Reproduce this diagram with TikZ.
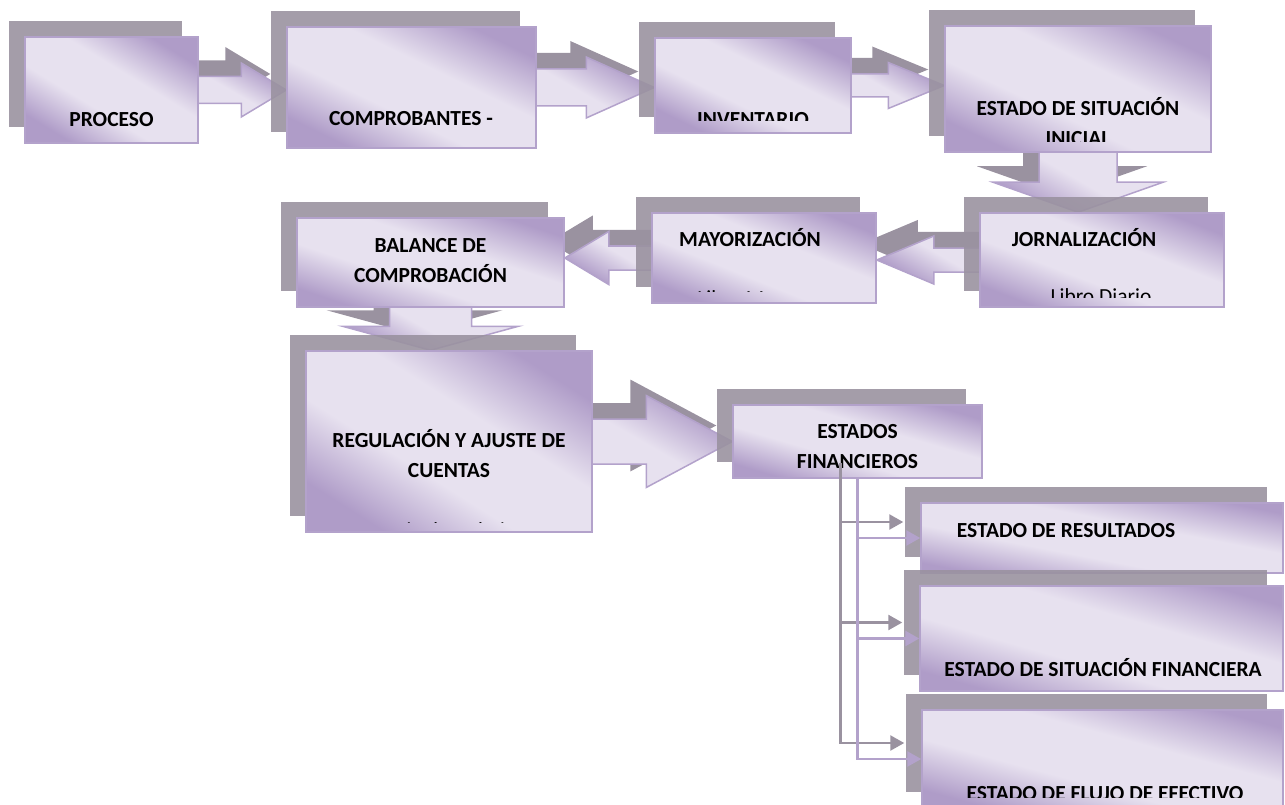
\documentclass[tikz,border=0pt]{standalone}
\usepackage{fontspec}
\setmainfont{Carlito}
\usetikzlibrary{calc,shadows,backgrounds,arrows.meta}

\definecolor{lila}{HTML}{E7E1EF}
\definecolor{lilaosc}{HTML}{AF9CC8}
\definecolor{borde}{HTML}{B3A2CB}
\definecolor{sombra}{HTML}{9A92A0}

\pgfdeclareverticalshading{lilashade}{100bp}{color(0bp)=(lilaosc); color(25bp)=(lilaosc);
  color(41bp)=(lila); color(58bp)=(lila); color(75bp)=(lilaosc); color(100bp)=(lilaosc)}

% flecha de bloque: origen, punta, medio cuerpo, media punta, largo punta
\newcommand{\flecha}[5]{%
  \coordinate (fA) at (#1);
  \coordinate (fB) at (#2);
  \coordinate (fH) at ($(fB)!#5!(fA)$);
  \path[flechabloque] ($(fA)!#3!90:(fB)$) -- ($(fH)!#3!90:(fB)$) -- ($(fH)!#4!90:(fB)$)
    -- (fB) -- ($(fH)!#4!-90:(fB)$) -- ($(fH)!#3!-90:(fB)$) -- ($(fA)!#3!-90:(fB)$) -- cycle;
}

\begin{document}
\begin{tikzpicture}[
    x=1pt, y=-1pt,
    caja/.style={draw=borde, line width=1.5pt, shade, shading=lilashade, shading angle=-25, inner sep=0pt,
        general shadow={fill=sombra, opacity=.9, shadow xshift=-16pt, shadow yshift=16pt}},
    flechabloque/.style={draw=borde, line width=1.5pt, shade, shading=lilashade, shading angle=-30,
        general shadow={fill=sombra, shadow xshift=-16pt, shadow yshift=16pt}},
    texto/.style={font=\bfseries\fontsize{21.5}{30}\selectfont, anchor=base, align=center, inner sep=0pt},
    nota/.style={texto, font=\fontsize{21.5}{30}\selectfont},
    conector/.style={draw=borde, line width=2.5pt, -{Triangle[length=14pt,width=15pt]}},
    conectorsombra/.style={conector, draw=sombra, transform canvas={xshift=-17pt,yshift=16pt}}
]
\useasboundingbox (0,0) rectangle (1285,805);

% cajas
\node[caja, minimum width=173, minimum height=106, shading angle=-31.5] (proceso) at (111.5,90) {};
\node[caja, minimum width=249, minimum height=121, shading angle=-25.9] (comprob) at (411.5,87.5) {};
\node[caja, minimum width=196, minimum height=95, shading angle=-25.9] (invent) at (753,85.5) {};
\node[caja, minimum width=266, minimum height=126, shading angle=-25.3] (esi) at (1078,89) {};
\node[caja, minimum width=244, minimum height=94, shading angle=-21.1] (jornal) at (1102,260) {};
\node[caja, minimum width=224, minimum height=90, shading angle=-21.9] (mayor) at (764,258) {};
\node[caja, minimum width=267, minimum height=89, shading angle=-18.4] (balance) at (430.5,262.5) {};
\node[caja, minimum width=286, minimum height=181, shading angle=-32.3] (regul) at (449,441.5) {};
\node[caja, minimum width=249, minimum height=73, shading angle=-16.3] (ef) at (857.5,441.5) {};
\node[caja, minimum width=362, minimum height=70, shading angle=-10.9] (eres) at (1102,538) {};
\node[caja, minimum width=363, minimum height=105, shading angle=-16.1] (esf) at (1101.5,638.5) {};
\node[caja, minimum width=361, minimum height=98, shading angle=-15.2] (eflujo) at (1102.5,759) {};

% flechas de bloque detras de las cajas
\begin{pgfonlayer}{background}
\flecha{proceso.center}{proceso.center -| comprob.west}{13.5pt}{27pt}{45pt}
\flecha{comprob.center}{comprob.center -| invent.west}{18.5pt}{30.5pt}{68pt}
\flecha{invent.center}{invent.center -| esi.west}{11.5pt}{23pt}{56pt}
\flecha{esi.center}{esi.center |- jornal.north}{39pt}{85pt}{30pt}
\flecha{jornal.center}{jornal.center -| mayor.east}{12pt}{24pt}{57pt}
\flecha{mayor.center}{mayor.center -| balance.east}{12pt}{26.5pt}{44pt}
\flecha{balance.center}{balance.center |- regul.north}{41pt}{88pt}{24pt}
\flecha{regul.center}{regul.center -| ef.west}{22.5pt}{46pt}{86pt}
\end{pgfonlayer}

% textos
\node[texto] (tproceso) at (111.5,126.5) {PROCESO};
\node[texto] (tcomprob) at (411,126) {COMPROBANTES -};
\begin{scope}
  \clip (655,38) rectangle (851,121);
  \node[texto] (tinvent) at (753,127) {INVENTARIO};
\end{scope}
\begin{scope}
  \clip (945,26) rectangle (1211,142);
  \node[texto] (tesi) at (1078,146) {ESTADO DE SITUACIÓN\\INICIAL};
\end{scope}
\node[texto] (tjornal) at (1084,247) {JORNALIZACIÓN};
\begin{scope}
  \clip (980,213) rectangle (1224,297);
  \node[nota] (tdiario) at (1101,303.8) {Libro Diario};
\end{scope}
\node[texto] (tmayor) at (750,247) {MAYORIZACIÓN};
\begin{scope}
  \clip (652,213) rectangle (876,291.5);
  \node[nota] (tlmayor) at (750,305) {Libro Mayor};
\end{scope}
\node[texto] (tbalance) at (430.5,282) {BALANCE DE\\COMPROBACIÓN};
\node[texto] (tregul) at (449,477) {REGULACIÓN Y AJUSTE DE\\CUENTAS};
\begin{scope}
  \clip (306,351) rectangle (592,522);
  \node[nota] (thoja) at (449,537) {Hoja de trabajo};
\end{scope}
\node[texto] (tef) at (857.5,468) {ESTADOS\\FINANCIEROS};
\node[texto] (teres) at (1066,537) {ESTADO DE RESULTADOS};
\node[texto] (tesf) at (1103,676) {ESTADO DE SITUACIÓN FINANCIERA};
\begin{scope}
  \clip (922,710) rectangle (1283,797);
  \node[texto] (teflujo) at (1105,800.5) {ESTADO DE FLUJO DE EFECTIVO};
\end{scope}

% conectores
\draw[conectorsombra] (ef.south) |- (eres.west);
\draw[conectorsombra] (ef.south) |- (esf.west);
\draw[conectorsombra] (ef.south) |- (eflujo.west);
\draw[conector] (ef.south) |- (eres.west);
\draw[conector] (ef.south) |- (esf.west);
\draw[conector] (ef.south) |- (eflujo.west);
\end{tikzpicture}
\end{document}
